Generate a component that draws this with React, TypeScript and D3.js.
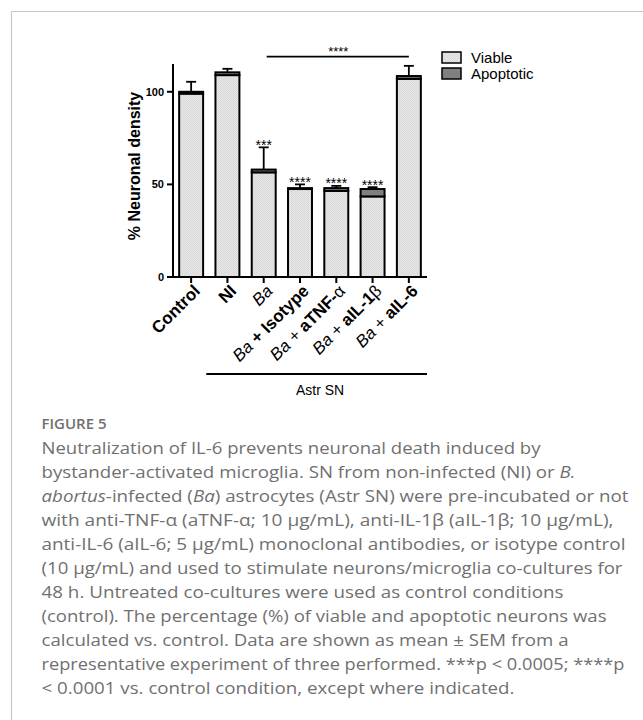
import React from 'react';
import * as d3 from 'd3';

// values (% of control)
const categories = ['Control', 'NI', 'Ba', 'Ba + Isotype', 'Ba + aTNF-α', 'Ba + aIL-1β', 'Ba + aIL-6'];
const viable = [99, 109, 56.5, 47.5, 46.5, 43.5, 107];
const apoptotic = [1, 1.5, 1.5, 0.5, 1.5, 4, 1.5];
const sem = [5.4, 1.9, 12, 2, 1.2, 1, 5.5];
const stars = ['', '', '***', '****', '****', '****', ''];
const yTicks = [0, 50, 100];

// label pieces: b = bold, i = italic
type Seg = { t: string; b?: boolean; i?: boolean };
const labelParts: Seg[][] = [
  [{ t: 'Control', b: true }],
  [{ t: 'NI', b: true }],
  [{ t: 'Ba', i: true }],
  [{ t: 'Ba', i: true }, { t: ' + Isotype', b: true }],
  [{ t: 'Ba', i: true }, { t: ' + ' }, { t: 'aTNF-', b: true }, { t: 'α' }],
  [{ t: 'Ba', i: true }, { t: ' + ' }, { t: 'aIL-1', b: true }, { t: 'β' }],
  [{ t: 'Ba', i: true }, { t: ' + ' }, { t: 'aIL-6', b: true }],
];

const captionLines: Seg[][] = [
  [{ t: 'Neutralization of IL-6 prevents neuronal death induced by' }],
  [{ t: 'bystander-activated microglia. SN from non-infected (NI) or ' }, { t: 'B.', i: true }],
  [{ t: 'abortus', i: true }, { t: '-infected (' }, { t: 'Ba', i: true }, { t: ') astrocytes (Astr SN) were pre-incubated or not' }],
  [{ t: 'with anti-TNF-α (aTNF-α; 10 μg/mL), anti-IL-1β (aIL-1β; 10 μg/mL),' }],
  [{ t: 'anti-IL-6 (aIL-6; 5 μg/mL) monoclonal antibodies, or isotype control' }],
  [{ t: '(10 μg/mL) and used to stimulate neurons/microglia co-cultures for' }],
  [{ t: '48 h. Untreated co-cultures were used as control conditions' }],
  [{ t: '(control). The percentage (%) of viable and apoptotic neurons was' }],
  [{ t: 'calculated vs. control. Data are shown as mean ± SEM from a' }],
  [{ t: 'representative experiment of three performed. ***p < 0.0005; ****p' }],
  [{ t: '< 0.0001 vs. control condition, except where indicated.' }],
];
const captionWidths = [499, 534, 587, 572, 584, 581, 522, 565, 527, 583, 473];

const W = 643;
const H = 720;

const App = () => {
  const x = d3.scaleBand<string>().domain(categories).range([173, 427]);
  const y = d3.scaleLinear().domain([0, 115]).range([277, 64]);
  const bw = x.bandwidth() * 0.66;
  const cx = (c: string) => (x(c) as number) + x.bandwidth() / 2;

  const font = '"Liberation Sans", Arial, sans-serif';
  const capFont = '"Open Sans", "Noto Sans", sans-serif';

  return (
    <svg width={W} height={H} style={{ position: 'absolute', left: 0, top: 0, background: '#fff' }}>
      <defs>
        <pattern id="dots" width="2" height="2" patternUnits="userSpaceOnUse">
          <rect width="2" height="2" fill="#e6e6e6" />
          <rect width="1" height="1" fill="#dadada" />
          <rect x="1" y="1" width="1" height="1" fill="#dadada" />
        </pattern>
      </defs>

      {/* frame */}
      <path d={`M11.5,${H} V11.5 H${W}`} fill="none" stroke="#c8c8c8" strokeWidth={1.2} />

      <g fontFamily={font}>
        {/* bars */}
        {categories.map((c, i) => {
          const x0 = cx(c) - bw / 2;
          const top = viable[i] + apoptotic[i];
          return (
            <g key={c}>
              <line x1={cx(c)} x2={cx(c)} y1={y(top)} y2={y(top + sem[i])} stroke="#000" strokeWidth={1.8} />
              <line x1={cx(c) - 5} x2={cx(c) + 5} y1={y(top + sem[i])} y2={y(top + sem[i])} stroke="#000" strokeWidth={1.8} />
              <rect x={x0} y={y(viable[i])} width={bw} height={y(0) - y(viable[i])} fill="url(#dots)" stroke="#000" strokeWidth={2} />
              <rect x={x0} y={y(top)} width={bw} height={y(viable[i]) - y(top)} fill="#808080" stroke="#000" strokeWidth={2} />
              {stars[i] && (
                <text x={cx(c)} y={y(top + sem[i]) + 2.5} textAnchor="middle" fontSize={14}>{stars[i]}</text>
              )}
            </g>
          );
        })}

        {/* y axis */}
        <line x1={173} x2={173} y1={y(0) + 1} y2={y(115)} stroke="#000" strokeWidth={2} />
        {yTicks.map((t) => (
          <g key={t}>
            <line x1={167} x2={173} y1={y(t)} y2={y(t)} stroke="#000" strokeWidth={2} />
            <text x={164} y={y(t) + 4} textAnchor="end" fontSize={11} fontWeight="bold">{t}</text>
          </g>
        ))}
        <text transform={`translate(140,166) rotate(-90)`} textAnchor="middle" fontSize={16} fontWeight="bold">% Neuronal density</text>

        {/* x axis */}
        <line x1={172} x2={427} y1={y(0)} y2={y(0)} stroke="#000" strokeWidth={2} />
        {categories.map((c, i) => (
          <g key={c}>
            <line x1={cx(c)} x2={cx(c)} y1={y(0)} y2={y(0) + 6} stroke="#000" strokeWidth={2} />
            <text transform={`translate(${cx(c) + 10},${y(0) + 15}) rotate(-45)`} textAnchor="end" fontSize={17}>
              {labelParts[i].map((s, k) => (
                <tspan key={k} fontWeight={s.b ? 'bold' : 'normal'} fontStyle={s.i ? 'italic' : 'normal'}>{s.t}</tspan>
              ))}
            </text>
          </g>
        ))}

        {/* significance bracket Ba vs Ba + aIL-6 */}
        <line x1={cx('Ba') + 3} x2={cx('Ba + aIL-6')} y1={y(119)} y2={y(119)} stroke="#000" strokeWidth={1.8} />
        <text x={(cx('Ba') + cx('Ba + aIL-6')) / 2 + 2} y={y(119) - 1} textAnchor="middle" fontSize={13}>****</text>

        {/* Astr SN group line */}
        <line x1={(x('NI') as number) - 3} x2={427} y1={374} y2={374} stroke="#000" strokeWidth={1.8} />
        <text x={296} y={395} fontSize={15} textLength={48} lengthAdjust="spacingAndGlyphs">Astr SN</text>

        {/* legend */}
        {[
          { name: 'Viable', fill: 'url(#dots)' },
          { name: 'Apoptotic', fill: '#808080' },
        ].map((d, i) => (
          <g key={d.name} transform={`translate(442,${52 + i * 16})`}>
            <rect width={19} height={11} fill={d.fill} stroke="#000" strokeWidth={1.5} />
            <text x={29} y={11} fontSize={15}>{d.name}</text>
          </g>
        ))}
      </g>

      {/* caption */}
      <g fontFamily={capFont} fill="#707070">
        <text x={41.5} y={429} fontSize={15} fontWeight={600} textLength={65} lengthAdjust="spacingAndGlyphs">FIGURE 5</text>
        {captionLines.map((line, i) => (
          <text key={i} x={41.5} y={454 + i * 24} fontSize={17} textLength={captionWidths[i]} lengthAdjust="spacingAndGlyphs">
            {line.map((s, k) => (
              <tspan key={k} fontStyle={s.i ? 'italic' : 'normal'}>{s.t}</tspan>
            ))}
          </text>
        ))}
      </g>
    </svg>
  );
};

export default App;
